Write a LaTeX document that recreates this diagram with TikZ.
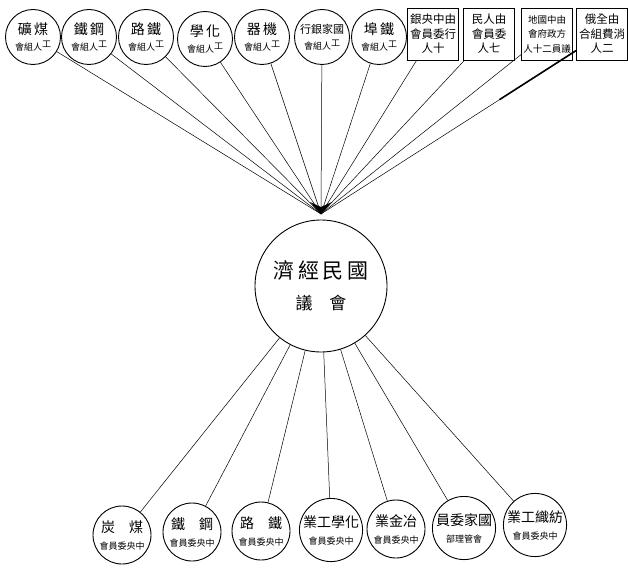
\documentclass[tikz,border=0pt]{standalone}
\usepackage{fontspec}
\newfontfamily\cjk{Noto Sans CJK TC}
\usetikzlibrary{arrows.meta}
\tikzset{
  topc/.style={draw,circle,line width=0.9pt,minimum size=55pt,inner sep=0pt,align=center,font=\cjk},
  boxn/.style={draw,rectangle,line width=0.9pt,minimum width=51pt,minimum height=52pt,inner sep=1pt,align=center,font=\cjk\fontsize{11.5}{14.5}\selectfont},
  botc/.style={draw,circle,line width=0.9pt,minimum size=58pt,inner sep=0pt,align=center,font=\cjk},
  link/.style={line width=0.5pt},
}
\newcommand{\tl}[1]{{\fontsize{14}{16}\selectfont #1}}
\newcommand{\bl}[1]{{\fontsize{9}{11}\selectfont #1}}
\begin{document}
\begin{tikzpicture}[x=1pt,y=-1pt]
\useasboundingbox (0,0) rectangle (628,569);
% top row circles
\node[topc] (t1) at (33,37) {\tl{礦\,煤}\\[4pt]\bl{會組人\raisebox{3pt}{工}}};
\node[topc] (t2) at (89,37) {\tl{鐵\,鋼}\\[4pt]\bl{會組人\raisebox{3pt}{工}}};
\node[topc] (t3) at (146,37) {\tl{路\,鐵}\\[4pt]\bl{會組人\raisebox{3pt}{工}}};
\node[topc] (t4) at (205,39) {\tl{學\,化}\\[4pt]\bl{會組人\raisebox{3pt}{工}}};
\node[topc] (t5) at (262,37) {\tl{器\,機}\\[4pt]\bl{會組人\raisebox{3pt}{工}}};
\node[topc] (t6) at (322,37) {{\fontsize{11}{13}\selectfont 行銀家國}\\[4pt]\bl{會組人\raisebox{3pt}{工}}};
\node[topc] (t7) at (379,37) {\tl{埠\,鐵}\\[4pt]\bl{會組人\raisebox{3pt}{工}}};
% boxes
\node[boxn] (b1) at (433,34) {銀央中由\\會員委行\\人十};
\node[boxn] (b2) at (489,34) {民人由\\會員委\\人七};
\node[boxn,font=\cjk\fontsize{9.5}{14.5}\selectfont] (b3) at (547,34) {地國中由\\會府政方\\人十二員議};
\node[boxn] (b4) at (602,34) {俄全由\\合組費消\\人二};
% centre
\node[draw,circle,line width=0.9pt,minimum size=132pt,inner sep=0pt,align=center,font=\cjk] (cc) at (321,286)
  {{\fontsize{21}{24}\selectfont 濟\,經\,民\,國}\\[14pt]{\fontsize{17}{20}\selectfont 議\quad 會}};
\coordinate (conv) at (321,214);
% bottom row
\node[botc] (d1) at (122,535) {\tl{炭\quad 煤}\\[5pt]\bl{會員委央中}};
\node[botc] (d2) at (192,532) {\tl{鐵\quad 鋼}\\[5pt]\bl{會員委央中}};
\node[botc] (d3) at (261,531) {\tl{路\quad 鐵}\\[5pt]\bl{會員委央中}};
\node[botc] (d4) at (331,530) {\tl{業工學化}\\[5pt]\bl{會員委央中}};
\node[botc] (d5) at (396,529) {\tl{業金冶}\\[5pt]\bl{會員委央中}};
\node[botc] (d6) at (464,528) {\tl{員委家國}\\[5pt]\bl{部理管會}};
\node[botc] (d7) at (535,525) {\tl{業工織紡}\\[5pt]\bl{會員委央中}};
% connectors top -> centre
\foreach \n in {t1,t2,t3,t4,t5,t6,t7,b1,b2,b3,b4} \draw[link] (\n) -- (conv);
\path (b4) -- (conv) coordinate[pos=0.3] (b4m);
\draw[line width=1.6pt] (b4) -- (b4m);
\fill (conv) -- ++(-11,-12) -- ++(11,5) -- ++(11,-5) -- cycle;
% connectors centre -> bottom
\foreach \n in {d1,d2,d3,d4,d5,d6,d7} \draw[link] (cc) -- (\n);
\end{tikzpicture}
\end{document}
